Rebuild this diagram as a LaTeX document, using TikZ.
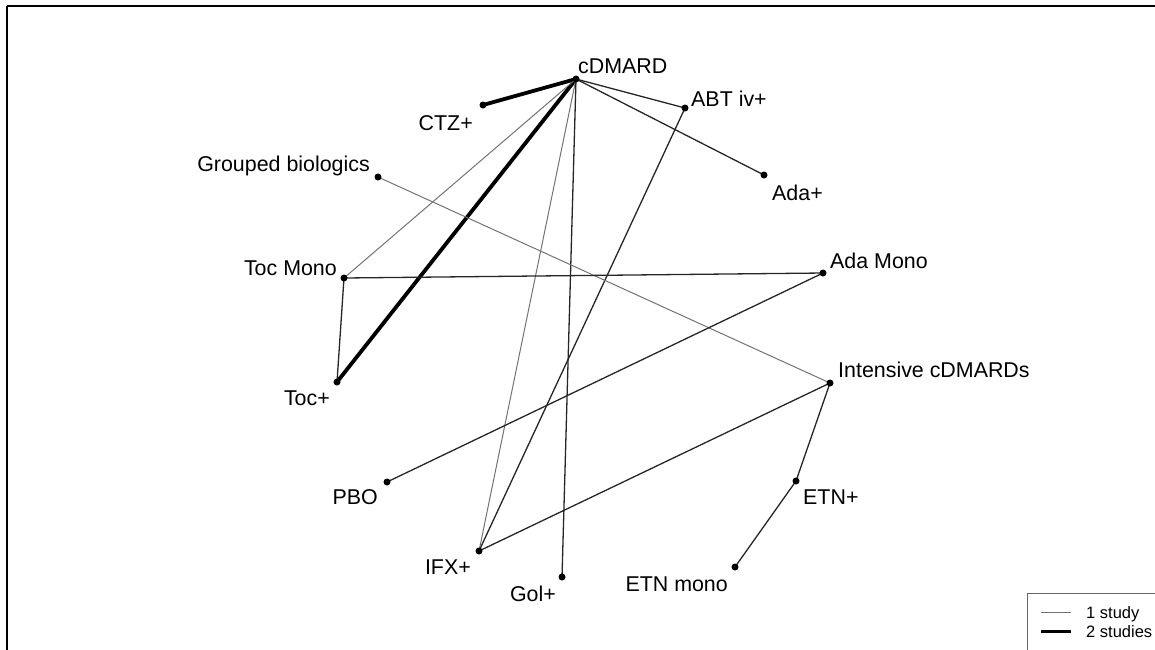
\documentclass[tikz,border=0pt]{standalone}
\usepackage{fontspec}
\setmainfont{Liberation Sans}
\pgfdeclarelayer{background}
\pgfsetlayers{background,main}
\begin{document}
\begin{tikzpicture}[x=1pt,y=-1pt,
  dot/.style={circle,fill=black,inner sep=0pt,minimum size=7pt},
  lbl/.style={inner sep=0pt,font=\fontsize{21.4}{24}\selectfont},
  leg/.style={inner sep=0pt,font=\fontsize{16.5}{19}\selectfont},
  one/.style={draw=black!55,line width=1pt},
  onedark/.style={draw=black!85,line width=1.3pt},
  two/.style={draw=black,line width=3.8pt}]
\useasboundingbox (0,0) rectangle (1155,649);
\clip (0,0) rectangle (1155,649);

% page frame
\draw[line width=2pt] (6.5,5.5) -- (1160,5.5);
\draw[line width=2pt] (6.5,5.5) -- (6.5,660);

% treatments
\node[dot] (cd)  at (576,79)  {};
\node[dot] (ctz) at (483,105) {};
\node[dot] (abt) at (685,108) {};
\node[dot] (gb)  at (378,177) {};
\node[dot] (adap) at (764,175) {};
\node[dot] (tocm) at (344,278) {};
\node[dot] (adam) at (823,273) {};
\node[dot] (tocp) at (337,382) {};
\node[dot] (int) at (830,383) {};
\node[dot] (pbo) at (387,482) {};
\node[dot] (etnp) at (796,481) {};
\node[dot] (ifx) at (479,551) {};
\node[dot] (gol) at (562,577) {};
\node[dot] (etnm) at (735,567) {};

% labels
\node[lbl,anchor=base west] (cdL)  at (578,73)  {cDMARD};
\node[lbl,anchor=base east] (ctzL) at (473,130) {CTZ+};
\node[lbl,anchor=base west] (abtL) at (691,106) {ABT iv+};
\node[lbl,anchor=base east] (gbL)  at (370,171) {Grouped biologics};
\node[lbl,anchor=base west] (adapL) at (772,200) {Ada+};
\node[lbl,anchor=base east] (tocmL) at (337,275) {Toc Mono};
\node[lbl,anchor=base west] (adamL) at (830,268) {Ada Mono};
\node[lbl,anchor=base east] (tocpL) at (330,405) {Toc+};
\node[lbl,anchor=base west] (intL) at (838,377) {Intensive cDMARDs};
\node[lbl,anchor=base east] (pboL) at (378,504) {PBO};
\node[lbl,anchor=base west] (etnpL) at (803,504) {ETN+};
\node[lbl,anchor=base east] (ifxL) at (471,574) {IFX+};
\node[lbl,anchor=base east] (golL) at (556,601) {Gol+};
\node[lbl,anchor=base east] (etnmL) at (728,591) {ETN mono};

% comparisons
\begin{pgfonlayer}{background}
\draw[two] (cd.center) -- (ctz.center);
\draw[two] (cd.center) -- (tocp.center);
\draw[onedark] (cd.center) -- (abt.center);
\draw[onedark] (cd.center) -- (adap.center);
\draw[one] (cd.center) -- (tocm.center);
\draw[one] (cd.center) -- (ifx.center);
\draw[onedark] (cd.center) -- (gol.center);
\draw[onedark] (abt.center) -- (ifx.center);
\draw[one] (gb.center) -- (int.center);
\draw[onedark] (tocm.center) -- (adam.center);
\draw[onedark] (tocm.center) -- (tocp.center);
\draw[onedark] (adam.center) -- (pbo.center);
\draw[onedark] (int.center) -- (ifx.center);
\draw[onedark] (int.center) -- (etnp.center);
\draw[onedark] (etnp.center) -- (etnm.center);
\end{pgfonlayer}

% legend
\node[draw=black!60,line width=0.8pt,anchor=north west,minimum width=140pt,minimum height=70pt,inner sep=0pt] (legbox) at (1027,593) {};
\coordinate (l1a) at (1041,612);
\coordinate (l1b) at (1071,612);
\coordinate (l2a) at (1041,631);
\coordinate (l2b) at (1071,631);
\draw[one] (l1a) -- (l1b);
\draw[draw=black,line width=3pt] (l2a) -- (l2b);
\node[leg,anchor=base west] (leg1) at (1086,618) {1 study};
\node[leg,anchor=base west] (leg2) at (1086,637) {2 studies};
\end{tikzpicture}
\end{document}
